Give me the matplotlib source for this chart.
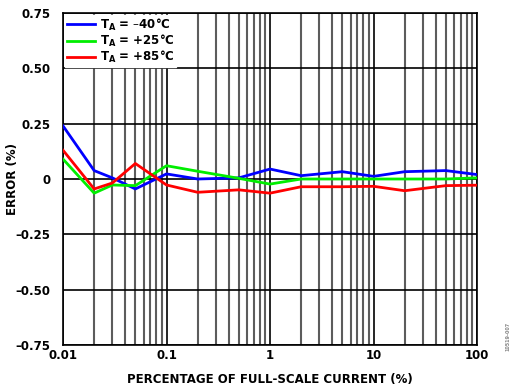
import matplotlib
matplotlib.use("Agg")
import matplotlib.pyplot as plt
import numpy as np
from matplotlib.ticker import FixedLocator, NullFormatter

plt.rcParams['font.family'] = ['DejaVu Sans']
plt.rcParams['font.weight'] = 'bold'
plt.rcParams['mathtext.fontset'] = 'dejavusans'

pct = [0.01, 0.02, 0.03, 0.05, 0.1, 0.2, 0.5, 1, 2, 5, 10, 20, 50, 100]
err_m40 = [0.24, 0.038, 0.005, -0.045, 0.023, 0.0, 0.005, 0.045, 0.015, 0.033, 0.012, 0.033, 0.038, 0.02]
err_p25 = [0.09, -0.064, -0.027, -0.03, 0.06, 0.035, 0.003, -0.023, 0.0, 0.0, 0.0, 0.0, 0.0, 0.005]
err_p85 = [0.13, -0.045, -0.018, 0.07, -0.027, -0.06, -0.049, -0.064, -0.035, -0.035, -0.033, -0.053, -0.03, -0.028]
labels = ['T$_\\mathbf{A}$ = \u201340°C', 'T$_\\mathbf{A}$ = +25°C', 'T$_\\mathbf{A}$ = +85°C']
colors = ['#0000ff', '#00ee00', '#ff0000']
yticks = [0.75, 0.5, 0.25, 0, -0.25, -0.5, -0.75]
ytick_labels = ['0.75', '0.50', '0.25', '0', '\u20130.25', '\u20130.50', '\u20130.75']
xticks = [0.01, 0.1, 1, 10, 100]
xtick_labels = ['0.01', '0.1', '1', '10', '100']

fig = plt.figure(figsize=(5.16, 3.9), dpi=100)
ax = fig.add_axes([63/516, 1-345/390, (477-63)/516, (345-13)/390])
ax.set_xscale('log')
ax.set_xlim(0.01, 100)
ax.set_ylim(-0.75, 0.75)

minor = [m * 10.0**e for e in range(-2, 2) for m in range(2, 10)]
for xv in minor:
    ax.axvline(xv, color='#333333', lw=1.5, alpha=0.8, zorder=1)
for xv in xticks:
    ax.axvline(xv, color='black', lw=1.2, zorder=1)
for yv in yticks:
    ax.axhline(yv, color='black', lw=1.2, zorder=1)

for ys, c, lab in zip([err_m40, err_p25, err_p85], colors, labels):
    ax.plot(pct, ys, color=c, lw=2.0, label=lab, zorder=3)

ax.xaxis.set_major_locator(FixedLocator(xticks))
ax.set_xticklabels(xtick_labels)
ax.xaxis.set_minor_formatter(NullFormatter())
ax.set_yticks(yticks)
ax.set_yticklabels(ytick_labels)
ax.tick_params(axis='x', which='both', length=0, labelsize=8.5, pad=3)
ax.tick_params(axis='y', which='both', length=0, labelsize=8.5, pad=9)
for sp in ax.spines.values():
    sp.set_linewidth(1.2)

ax.set_xlabel('PERCENTAGE OF FULL-SCALE CURRENT (%)', fontsize=8.5, fontweight='bold')
ax.xaxis.set_label_coords(0.5, -(373 - 345) / 332)
ax.set_ylabel('ERROR (%)', fontsize=8.5, fontweight='bold')
ax.yaxis.set_label_coords(-(63 - 19) / 414, 0.5)

leg = ax.legend(loc='upper left', bbox_to_anchor=(0.0, 1.0), frameon=True, fontsize=8.5,
                handlelength=2.4, handletextpad=0.4, labelspacing=0.0, borderpad=0.15,
                borderaxespad=0.15, fancybox=False)
leg.get_frame().set_edgecolor('white')
leg.get_frame().set_facecolor('white')
leg.get_frame().set_alpha(1)
leg.set_zorder(5)
for t in leg.get_texts():
    t.set_fontweight('bold')

fig.text(0.985, 0.1, '10519-007', rotation=90, fontsize=3.5, color='#888888', ha='center', va='bottom')

fig.savefig('out.png', dpi=100)
